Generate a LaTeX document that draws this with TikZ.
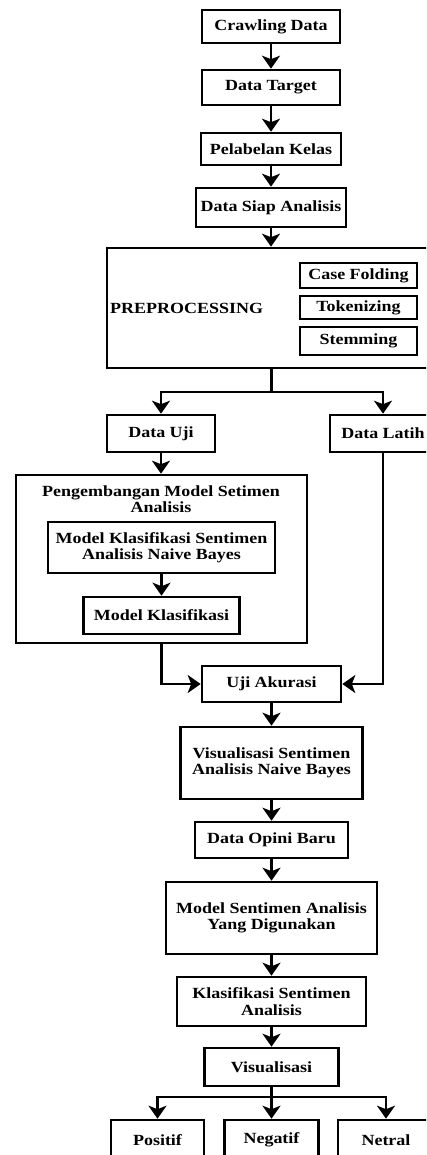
\documentclass[tikz,border=0pt]{standalone}
\usepackage{fontspec}
\setmainfont[FakeStretch=1.16]{Liberation Serif}
\usetikzlibrary{arrows.meta}
\begin{document}
\begin{tikzpicture}[x=1pt,y=-1pt,
  box/.style={draw=black,line width=2.6pt,fill=white,inner sep=0pt,align=center,
    font=\fontsize{15.5}{16.5}\selectfont\bfseries},
  lbl/.style={inner sep=0pt,align=center,font=\fontsize{15.5}{16.5}\selectfont\bfseries},
  conn/.style={line width=2.4pt,draw=black},
  arr/.style={conn,-{Stealth[length=13pt,width=18pt,inset=3.5pt]}}]
\fill[white] (0,0) rectangle (426,1155);
\useasboundingbox (0,0) rectangle (426,1155);
\begin{scope}
\clip (0,0) rectangle (426,1155);
% main column
\node[box,minimum width=138pt,minimum height=33pt] (crawl) at (271,26.5) {Crawling Data};
\node[box,minimum width=138pt,minimum height=35pt] (target) at (271,87.5) {Data Target};
\node[box,minimum width=140pt,minimum height=32pt] (kelas) at (271,149) {Pelabelan Kelas};
\node[box,minimum width=150pt,minimum height=39pt] (siap) at (271,207.5) {Data Siap Analisis};
% preprocessing
\node[box,minimum width=323pt,minimum height=120pt] (prep) at (268.5,308) {};
\node[lbl,anchor=west] (preptxt) at (110,308) {PREPROCESSING};
\node[box,minimum width=117pt,minimum height=25pt] (case) at (358.5,275.5) {Case Folding};
\node[box,minimum width=117pt,minimum height=23pt] (token) at (358.5,307.5) {Tokenizing};
\node[box,minimum width=117pt,minimum height=28pt] (stem) at (358.5,341) {Stemming};
% split
\node[box,minimum width=108pt,minimum height=37pt] (uji) at (161,433.5) {Data Uji};
\node[box,minimum width=106pt,minimum height=37pt] (latih) at (383,433.5) {Data Latih};
% pengembangan
\node[box,minimum width=291pt,minimum height=168pt] (peng) at (161.5,559) {};
\node[lbl] (pengtxt) at (161,499) {Pengembangan Model Setimen\\Analisis};
\node[box,minimum width=227pt,minimum height=51pt] (mks) at (161.5,547.5) {Model Klasifikasi Sentimen\\Analisis Naive Bayes};
\node[box,minimum width=156pt,minimum height=37pt] (mk) at (161.5,615.5) {Model Klasifikasi};
% lower column
\node[box,minimum width=139pt,minimum height=36pt] (akurasi) at (271.5,684) {Uji Akurasi};
\node[box,minimum width=182pt,minimum height=72pt] (vis) at (271.5,763) {Visualisasi Sentimen\\Analisis Naive Bayes};
\node[box,minimum width=153pt,minimum height=36pt] (opini) at (271.5,840) {Data Opini Baru};
\node[box,minimum width=211pt,minimum height=72pt] (msa) at (271.5,918) {Model Sentimen Analisis\\Yang Digunakan};
\node[box,minimum width=189pt,minimum height=49pt] (ksa) at (271.5,1001.5) {Klasifikasi Sentimen\\Analisis};
\node[box,minimum width=134pt,minimum height=38pt] (visual) at (271.5,1067) {Visualisasi};
\node[box,minimum width=93pt,minimum height=40pt] (positif) at (157.5,1140) {Positif};
\node[box,minimum width=94pt,minimum height=40pt] (negatif) at (271.5,1140) {Negatif};
\node[box,minimum width=96pt,minimum height=40pt] (netral) at (386,1140) {Netral};
% connectors
\draw[arr] (crawl) -- (target);
\draw[arr] (target) -- (kelas);
\draw[arr] (kelas) -- (siap);
\draw[arr] (siap.south) -- (siap.south |- prep.north);
\coordinate (split) at (271.5,392);
\draw[conn] (split |- prep.south) -- (split);
\draw[arr] (split) -| (uji.north);
\draw[arr] (split) -| (latih.north);
\draw[arr] (uji.south) -- (uji.south |- peng.north);
\draw[arr] (mks) -- (mk);
\draw[arr] (peng.south) |- (akurasi.west);
\draw[arr] (latih.south) |- (akurasi.east);
\draw[arr] (akurasi) -- (vis);
\draw[arr] (vis) -- (opini);
\draw[arr] (opini) -- (msa);
\draw[arr] (msa) -- (ksa);
\draw[arr] (ksa) -- (visual);
\coordinate (split2) at (271.5,1097);
\draw[conn] (visual.south) -- (split2);
\draw[arr] (split2) -| (positif.north);
\draw[arr] (split2) -- (negatif.north);
\draw[arr] (split2) -| (netral.north);
\end{scope}
\end{tikzpicture}
\end{document}
